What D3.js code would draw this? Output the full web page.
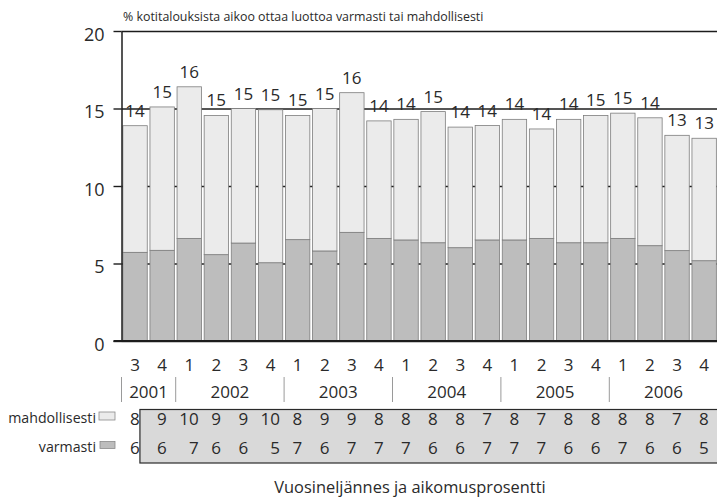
<!DOCTYPE html>
<html>
<head>
<meta charset="utf-8">
<script src="https://cdn.jsdelivr.net/npm/d3@7"></script>
<style>
  body { margin: 0; background: #fff; }
  svg { display: block; font-family: "Open Sans", "Noto Sans", sans-serif; }
</style>
</head>
<body>
<svg id="chart" width="717" height="499"></svg>
<script>
// Quarters 2001 Q3 – 2006 Q4 ("year-quarter")
const categories = [
  "2001-3", "2001-4",
  "2002-1", "2002-2", "2002-3", "2002-4",
  "2003-1", "2003-2", "2003-3", "2003-4",
  "2004-1", "2004-2", "2004-3", "2004-4",
  "2005-1", "2005-2", "2005-3", "2005-4",
  "2006-1", "2006-2", "2006-3", "2006-4"
];
// Share of households (%) planning to take a loan
const varmasti = [5.72, 5.85, 6.62, 5.57, 6.32, 5.05, 6.54, 5.81, 7.01, 6.62, 6.52,
                  6.34, 6.02, 6.52, 6.52, 6.62, 6.34, 6.34, 6.62, 6.15, 5.83, 5.18];
const mahdollisesti = [8.17, 9.25, 9.78, 8.98, 8.68, 9.87, 8.01, 9.19, 9.01, 7.58, 7.78,
                       8.46, 7.78, 7.38, 7.78, 7.06, 7.96, 8.21, 8.08, 8.25, 7.44, 7.90];
const seriesKeys = ["varmasti", "mahdollisesti"];
const yTicks = [0, 5, 10, 15, 20];
const titleText = "% kotitalouksista aikoo ottaa luottoa varmasti tai mahdollisesti";
const axisTitle = "Vuosineljännes ja aikomusprosentti";

const W = 717, H = 499;
const ink = "#2a2a2a";
const lineInk = "#1c1c1c";
const fills = { varmasti: "#bdbdbd", mahdollisesti: "#ebebeb" };

const svg = d3.select("#chart");
const plot = { left: 121.5, top: 31, bottom: 341, right: 121.5 + categories.length * 27.1 };

const x = d3.scaleBand()
  .domain(categories)
  .range([plot.left, plot.right])
  .paddingInner(0.1)
  .paddingOuter(0.05);
const y = d3.scaleLinear().domain([0, 20]).range([plot.bottom, plot.top]);

const rows = categories.map((c, i) => ({
  cat: c,
  varmasti: varmasti[i],
  mahdollisesti: mahdollisesti[i]
}));
const stacked = d3.stack().keys(seriesKeys)(rows);

// Horizontal grid lines (behind the bars)
const grid = svg.append("g")
  .attr("transform", `translate(${plot.left},0)`)
  .call(d3.axisLeft(y).tickValues(yTicks).tickSize(-(W - plot.left)).tickFormat(""));
grid.select(".domain").remove();
grid.selectAll(".tick line").attr("stroke", lineInk).attr("stroke-width", 1.4);

// Stacked bars
svg.append("g").selectAll("g")
  .data(stacked)
  .join("g")
  .attr("fill", d => fills[d.key])
  .selectAll("rect")
  .data(d => d)
  .join("rect")
  .attr("x", d => x(d.data.cat))
  .attr("y", d => y(d[1]))
  .attr("width", x.bandwidth())
  .attr("height", d => y(d[0]) - y(d[1]))
  .attr("stroke", "#7d7d7d")
  .attr("stroke-width", 0.8);

// Total labels above bars
svg.append("g").selectAll("text")
  .data(rows)
  .join("text")
  .attr("x", d => x(d.cat) + x.bandwidth() / 2)
  .attr("y", d => y(d.varmasti + d.mahdollisesti) - 9)
  .attr("text-anchor", "middle")
  .attr("font-size", 17)
  .attr("fill", ink)
  .text(d => d3.format(".0f")(d.varmasti + d.mahdollisesti));

// Y axis
const yAxis = svg.append("g")
  .attr("transform", `translate(${plot.left},0)`)
  .call(d3.axisLeft(y).tickValues(yTicks).tickSize(8).tickSizeOuter(0).tickPadding(9));
yAxis.select(".domain").attr("stroke", lineInk).attr("stroke-width", 1.5);
yAxis.selectAll(".tick line").attr("stroke", lineInk).attr("stroke-width", 1.4);
yAxis.selectAll(".tick text")
  .attr("font-size", 18)
  .attr("font-family", "Open Sans, Noto Sans, sans-serif")
  .attr("fill", ink)
  .attr("dy", "0.5em");

// Zero baseline
svg.append("line")
  .attr("x1", plot.left - 8).attr("x2", W)
  .attr("y1", y(0)).attr("y2", y(0))
  .attr("stroke", lineInk).attr("stroke-width", 2);

// Title
svg.append("text")
  .attr("x", 123).attr("y", 21)
  .attr("font-size", 12.4)
  .attr("fill", ink)
  .text(titleText);

// Quarter labels
const qAxis = svg.append("g")
  .attr("transform", `translate(0,${plot.bottom})`)
  .call(d3.axisBottom(x).tickSize(0).tickPadding(18).tickFormat(c => c.split("-")[1]));
qAxis.select(".domain").remove();
qAxis.selectAll(".tick text")
  .attr("font-size", 17)
  .attr("font-family", "Open Sans, Noto Sans, sans-serif")
  .attr("fill", ink);

// Year labels with separators
const gap = x.step() - x.bandwidth();
const yearGroups = d3.groups(categories, c => c.split("-")[0]);
const yg = svg.append("g");
yearGroups.forEach(([year, cats]) => {
  const x0 = x(cats[0]) - gap / 2;
  const x1 = x(cats[cats.length - 1]) + x.bandwidth() + gap / 2;
  yg.append("line")
    .attr("x1", x0).attr("x2", x0)
    .attr("y1", 377).attr("y2", 402)
    .attr("stroke", "#9a9a9a").attr("stroke-width", 1);
  yg.append("text")
    .attr("x", (x0 + x1) / 2).attr("y", 398)
    .attr("text-anchor", "middle")
    .attr("font-size", 17)
    .attr("fill", ink)
    .text(year);
});

// Value table
const tableRows = [
  { key: "mahdollisesti", values: mahdollisesti, base: 425, box: [99, 412, 16, 8] },
  { key: "varmasti", values: varmasti, base: 454, box: [100, 441.5, 15, 7] }
];
const boxLeft = x(categories[0]) + x.bandwidth() * 0.7;
svg.append("rect")
  .attr("x", boxLeft).attr("y", 409.5)
  .attr("width", W + 10 - boxLeft).attr("height", 53.5)
  .attr("fill", "#d9d9d9")
  .attr("stroke", "#2a2a2a").attr("stroke-width", 1.2);

const fmt = d3.format(".0f");
const digitW = 9.4;
categories.forEach((c, i) => {
  const maxLen = d3.max(tableRows, r => fmt(r.values[i]).length);
  const xEnd = x(c) + x.bandwidth() / 2 + maxLen * digitW / 2;
  tableRows.forEach(r => {
    svg.append("text")
      .attr("x", xEnd).attr("y", r.base)
      .attr("text-anchor", "end")
      .attr("font-size", 17)
      .attr("fill", ink)
      .text(fmt(r.values[i]));
  });
});

// Legend
tableRows.forEach(r => {
  svg.append("text")
    .attr("x", 96).attr("y", r.base - 2)
    .attr("text-anchor", "end")
    .attr("font-size", 14.2)
    .attr("fill", ink)
    .text(r.key);
  svg.append("rect")
    .attr("x", r.box[0]).attr("y", r.box[1])
    .attr("width", r.box[2]).attr("height", r.box[3])
    .attr("fill", fills[r.key])
    .attr("stroke", "#8a8a8a").attr("stroke-width", 0.8);
});

// X axis title
svg.append("text")
  .attr("x", 410).attr("y", 493)
  .attr("text-anchor", "middle")
  .attr("font-size", 16.4)
  .attr("fill", ink)
  .text(axisTitle);
</script>
</body>
</html>
